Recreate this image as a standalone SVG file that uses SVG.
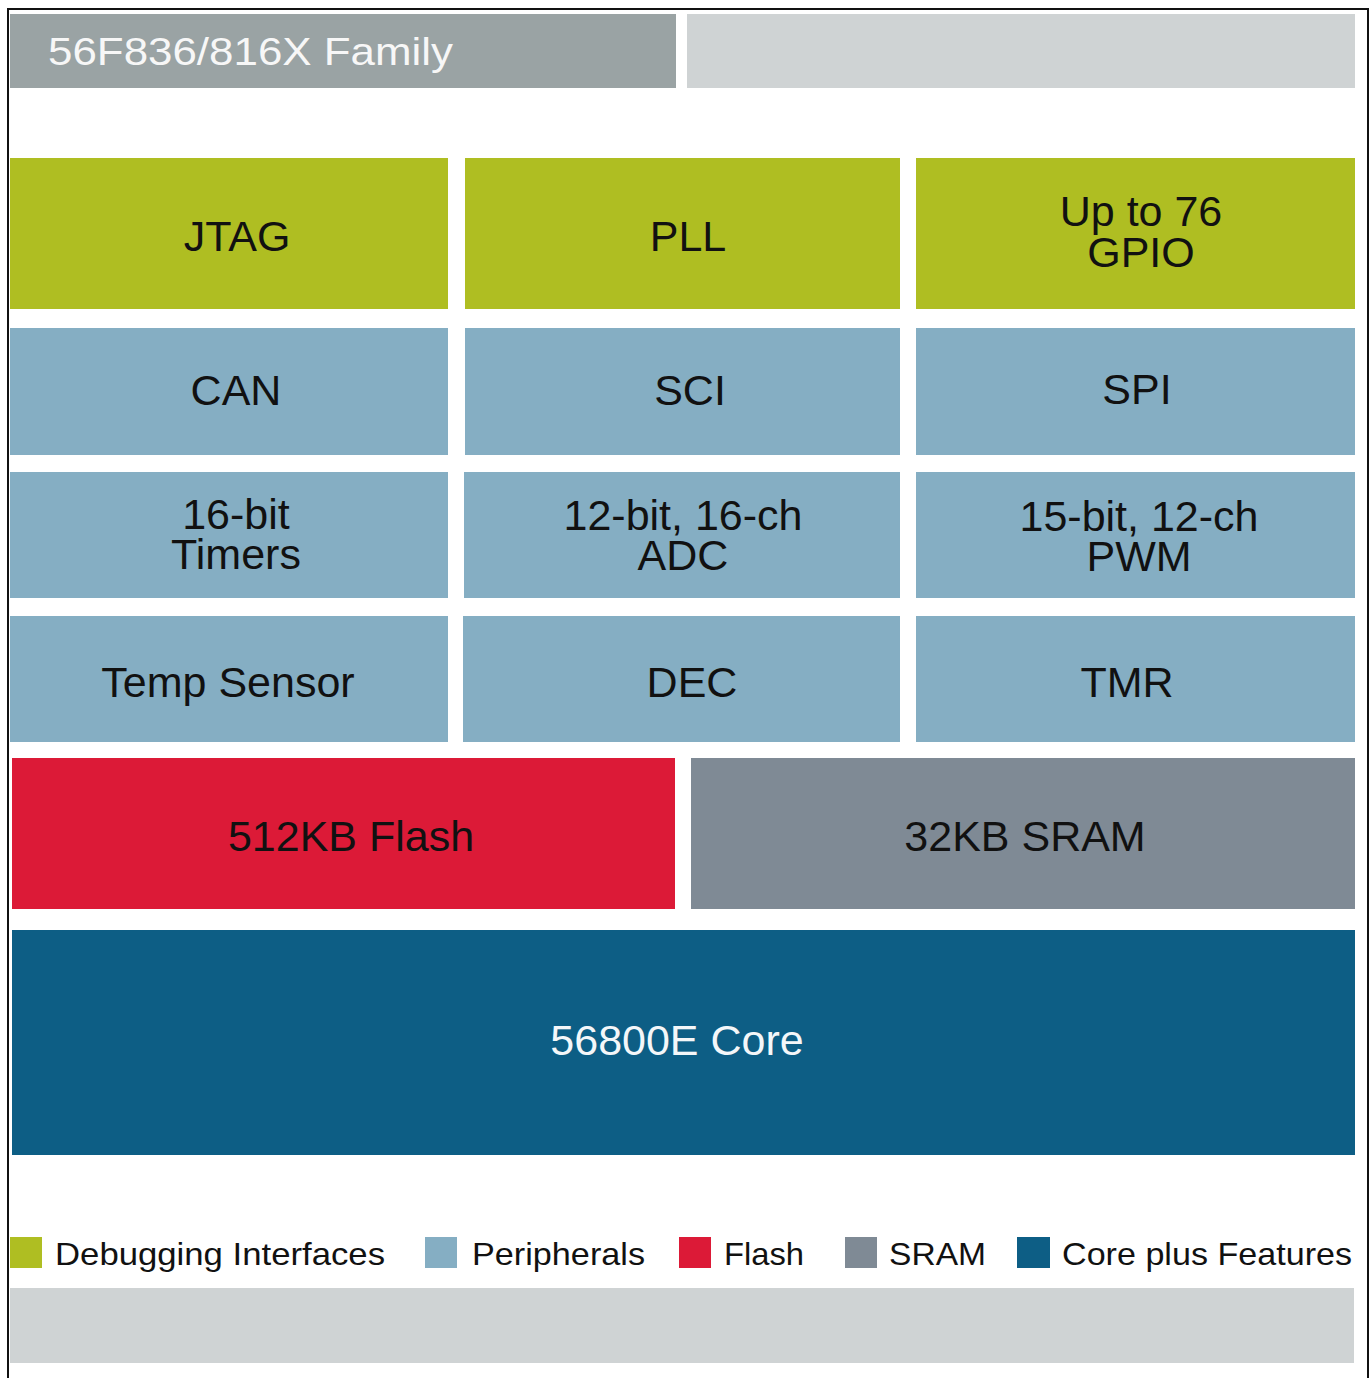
<svg xmlns="http://www.w3.org/2000/svg" width="1370" height="1378" viewBox="0 0 1370 1378">
  <style>
    .lbl { font-family: "Liberation Sans", Arial, sans-serif; font-size: 43px; fill: #111; text-anchor: middle; }
    .wlbl { font-family: "Liberation Sans", Arial, sans-serif; font-size: 43px; fill: #f4f7f9; text-anchor: middle; }
    .leg { font-family: "Liberation Sans", Arial, sans-serif; font-size: 32px; fill: #111; }
    .dbg { fill: #afbe22; }
    .per { fill: #85aec3; }
    .fla { fill: #dc1a37; }
    .sra { fill: #7f8a95; }
    .cor { fill: #0d5e85; }
    .bar { fill: #cfd3d4; }
  </style>

  <rect x="0" y="0" width="1370" height="1378" fill="#ffffff"/>
  <rect x="8" y="9" width="1360" height="1400" fill="none" stroke="#111" stroke-width="2"/>

  <g id="header">
    <rect x="10" y="14" width="666" height="74" fill="#9aa3a4"/>
    <rect x="687" y="14" width="668" height="74" class="bar"/>
    <text x="48" y="65" font-family="Liberation Sans, Arial, sans-serif" font-size="39" fill="#f7f7f7" textLength="405" lengthAdjust="spacingAndGlyphs">56F836/816X Family</text>
  </g>

  <g id="jtag"><rect x="10" y="158" width="438" height="151" class="dbg"/><text x="237" y="251" class="lbl">JTAG</text></g>
  <g id="pll"><rect x="465" y="158" width="435" height="151" class="dbg"/><text x="688" y="251" class="lbl">PLL</text></g>
  <g id="gpio"><rect x="916" y="158" width="439" height="151" class="dbg"/><text x="1141" y="226" class="lbl">Up to 76</text><text x="1141" y="267" class="lbl">GPIO</text></g>

  <g id="can"><rect x="10" y="328" width="438" height="127" class="per"/><text x="236" y="405" class="lbl">CAN</text></g>
  <g id="sci"><rect x="465" y="328" width="435" height="127" class="per"/><text x="690" y="405" class="lbl">SCI</text></g>
  <g id="spi"><rect x="916" y="328" width="439" height="127" class="per"/><text x="1137" y="404" class="lbl">SPI</text></g>

  <g id="timers"><rect x="10" y="472" width="438" height="126" class="per"/><text x="236" y="529" class="lbl">16-bit</text><text x="236" y="569" class="lbl">Timers</text></g>
  <g id="adc"><rect x="464" y="472" width="436" height="126" class="per"/><text x="683" y="530" class="lbl">12-bit, 16-ch</text><text x="683" y="570" class="lbl">ADC</text></g>
  <g id="pwm"><rect x="916" y="472" width="439" height="126" class="per"/><text x="1139" y="531" class="lbl">15-bit, 12-ch</text><text x="1139" y="571" class="lbl">PWM</text></g>

  <g id="temp"><rect x="10" y="616" width="438" height="126" class="per"/><text x="228" y="697" class="lbl">Temp Sensor</text></g>
  <g id="dec"><rect x="463" y="616" width="437" height="126" class="per"/><text x="692" y="697" class="lbl">DEC</text></g>
  <g id="tmr"><rect x="916" y="616" width="439" height="126" class="per"/><text x="1127" y="697" class="lbl">TMR</text></g>

  <g id="flash"><rect x="12" y="758" width="663" height="151" class="fla"/><text x="351" y="851" class="lbl" fill="#1a0a0c">512KB Flash</text></g>
  <g id="sram"><rect x="691" y="758" width="664" height="151" class="sra"/><text x="1025" y="851" class="lbl">32KB SRAM</text></g>

  <g id="core"><rect x="12" y="930" width="1343" height="225" class="cor"/><text x="677" y="1055" class="wlbl">56800E Core</text></g>

  <g id="legend">
    <rect x="10" y="1237" width="32" height="31" class="dbg"/>
    <text x="55" y="1265" class="leg" textLength="330" lengthAdjust="spacingAndGlyphs">Debugging Interfaces</text>
    <rect x="425" y="1237" width="32" height="31" class="per"/>
    <text x="472" y="1265" class="leg" textLength="173" lengthAdjust="spacingAndGlyphs">Peripherals</text>
    <rect x="679" y="1237" width="32" height="31" class="fla"/>
    <text x="724" y="1265" class="leg" textLength="80" lengthAdjust="spacingAndGlyphs">Flash</text>
    <rect x="845" y="1237" width="32" height="31" class="sra"/>
    <text x="889" y="1265" class="leg" textLength="97" lengthAdjust="spacingAndGlyphs">SRAM</text>
    <rect x="1017" y="1237" width="33" height="31" class="cor"/>
    <text x="1062" y="1265" class="leg" textLength="290" lengthAdjust="spacingAndGlyphs">Core plus Features</text>
  </g>

  <g id="footer">
    <rect x="10" y="1288" width="1344" height="75" class="bar"/>
  </g>

  <g id="connectors"></g>
</svg>
